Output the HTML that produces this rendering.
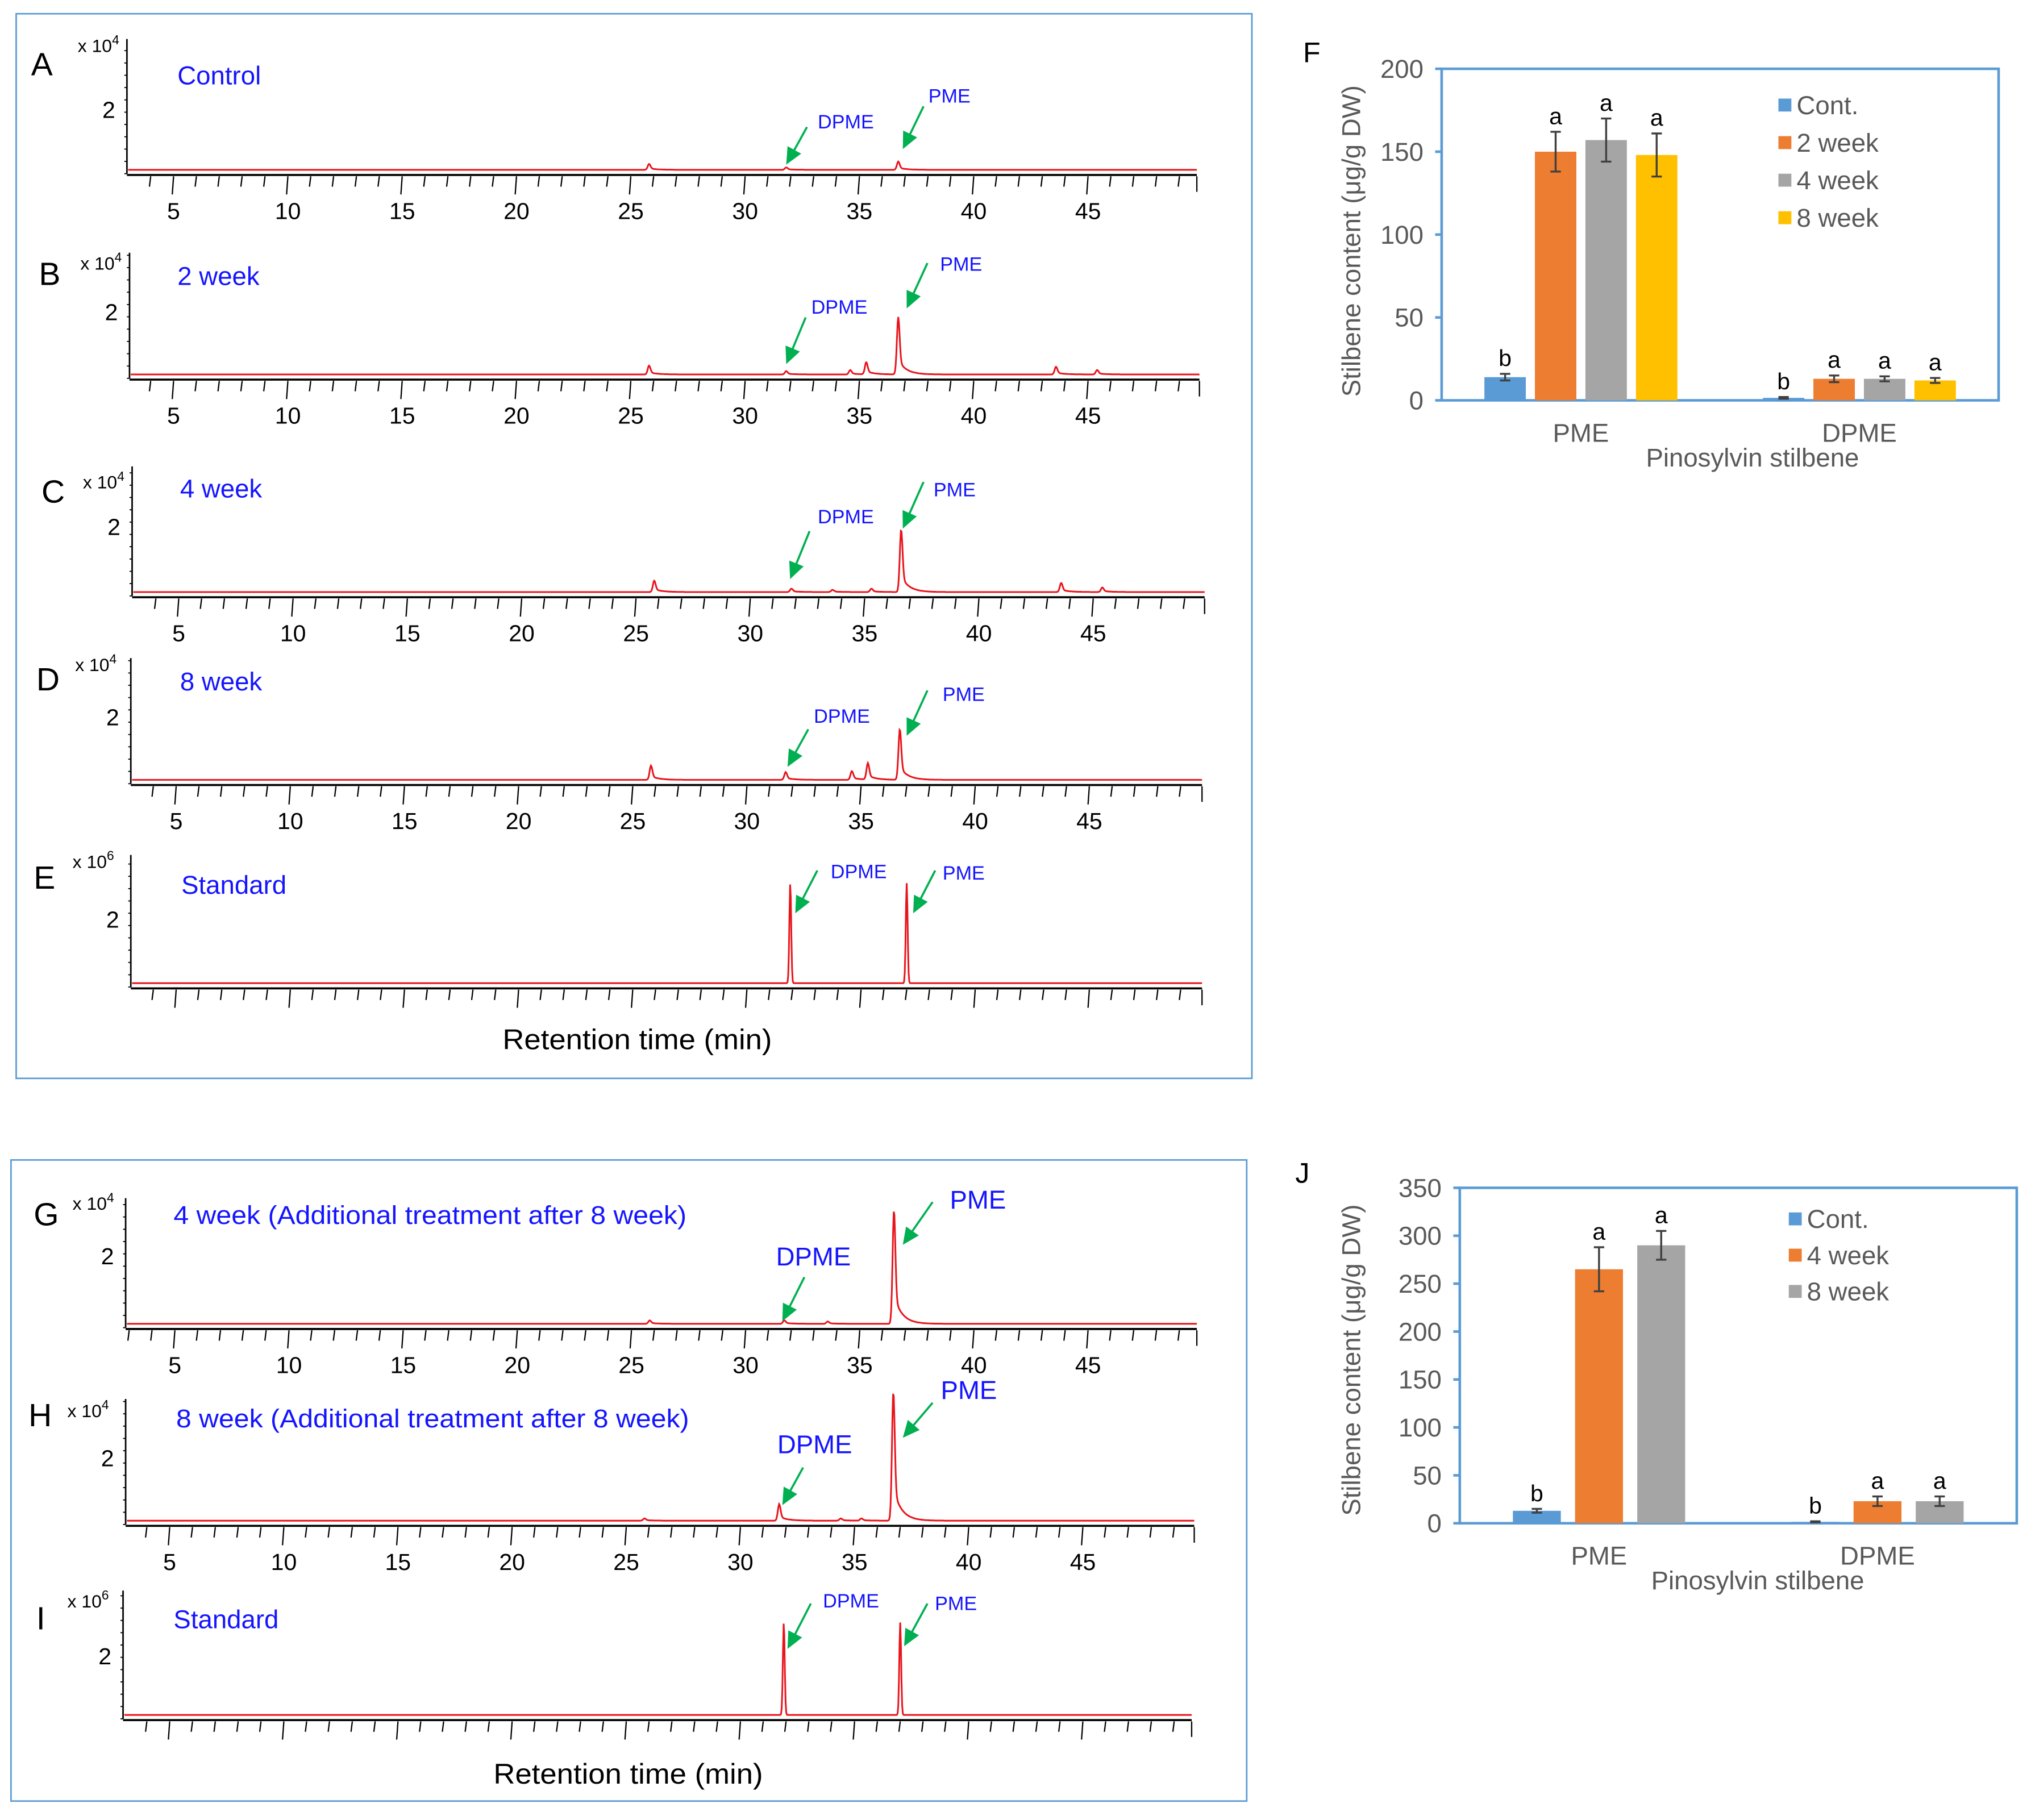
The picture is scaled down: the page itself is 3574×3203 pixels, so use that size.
<!DOCTYPE html>
<html><head><meta charset="utf-8"><style>
html,body{margin:0;padding:0;background:#fff;}
svg{display:block;}
text{font-family:"Liberation Sans Narrow","Liberation Sans",sans-serif;}
</style></head><body>
<svg id="fig" xmlns="http://www.w3.org/2000/svg" width="3574" height="3203" viewBox="0 0 1568 1405">
<rect x="0" y="0" width="1568" height="1405" fill="#fff"/>
<rect x="12.5" y="10.5" width="954" height="822" fill="none" stroke="#5b9bd5" stroke-width="1.2"/>
<rect x="8.5" y="895.5" width="954" height="495" fill="none" stroke="#5b9bd5" stroke-width="1.2"/>
</svg>
<script>
// ---------- chromatogram data: [retention time (min), relative height] ----------
const peaksA = [[25.8,0.05],[36.7,0.07],[31.8,0.02]];
const peaksB = [[25.8,0.08],[31.8,0.03],[34.6,0.04],[35.3,0.11],[36.7,0.52],[43.6,0.07],[45.4,0.04]];
const peaksC = [[25.8,0.10],[31.8,0.03],[33.6,0.02],[35.3,0.03],[36.6,0.55],[43.6,0.08],[45.4,0.04]];
const peaksD = [[25.8,0.13],[31.7,0.07],[34.6,0.08],[35.3,0.15],[36.7,0.46]];
const peaksE = [[31.9,0.86],[37.0,0.86]];
const peaksG = [[25.8,0.03],[31.7,0.03],[33.6,0.02],[36.5,1.0]];
const peaksH = [[25.8,0.02],[31.7,0.15],[34.4,0.02],[35.3,0.02],[36.7,1.17]];
const peaksI = [[31.9,0.82],[37.0,0.82]];
const tickLabels = [5,10,15,20,25,30,35,40,45];

// ---------- bar chart data ----------
const catsF = ['PME','DPME'];
const seriesF = ['Cont.','2 week','4 week','8 week'];
const valsF = [[14,1.5],[150,13],[157,13],[148,12]];
const errF = [[2,0.5],[12,2],[13,1.5],[13,1.5]];
const letF = [['b','b'],['a','a'],['a','a'],['a','a']];
const ticksF = [0,50,100,150,200];
const catsJ = ['PME','DPME'];
const seriesJ = ['Cont.','4 week','8 week'];
const valsJ = [[13,1.5],[265,23],[290,23]];
const errJ = [[2,0.5],[23,5],[15,5]];
const letJ = [['b','b'],['a','a'],['a','a']];
const ticksJ = [0,50,100,150,200,250,300,350];

const NS='http://www.w3.org/2000/svg';
const svg=document.getElementById('fig');
function mk(tag,a,parent){const e=document.createElementNS(NS,tag);for(const k in a)e.setAttribute(k,a[k]);(parent||svg).appendChild(e);return e;}
function txt(s,a,parent){const e=mk('text',a,parent);e.textContent=s;return e;}

const panels=[
 {id:'A',peaks:peaksA,x0:98,x1:924,base:134,top:30,t5:134,t45:840,two:85,title:'Control',tx:137,ty:65,lx:24,ly:50,mx:60,my:40,exp:'4',lab:true,ds:15,
  arr:[[623,98,607,127,'DPME',653,94],[713,82,697,115,'PME',733,74]]},
 {id:'B',peaks:peaksB,x0:100,x1:926,base:292,top:195,t5:134,t45:840,two:241,title:'2 week',tx:137,ty:220,lx:30,ly:212,mx:62,my:208,exp:'4',lab:true,ds:15,
  arr:[[622,245,607,281,'DPME',648,237],[716,203,700,238,'PME',742,204]]},
 {id:'C',peaks:peaksC,x0:102,x1:930,base:460,top:360,t5:138,t45:844,two:407,title:'4 week',tx:139,ty:384,lx:32,ly:380,mx:64,my:377,exp:'4',lab:true,ds:15,
  arr:[[625,410,610,447,'DPME',653,399],[713,372,697,408,'PME',737,378]]},
 {id:'D',peaks:peaksD,x0:101,x1:928,base:605,top:508,t5:136,t45:841,two:554,title:'8 week',tx:139,ty:533,lx:28,ly:525,mx:58,my:518,exp:'4',lab:true,ds:15,
  arr:[[624,563,608,592,'DPME',650,553],[716,533,700,568,'PME',744,536]]},
 {id:'E',peaks:peaksE,x0:101,x1:928,base:762,top:660,t5:136,t45:841,two:710,title:'Standard',tx:140,ty:690,lx:26,ly:678,mx:56,my:670,exp:'6',lab:false,ds:15,
  arr:[[631,672,614,705,'DPME',663,673],[722,672,705,705,'PME',744,674]]},
 {id:'G',peaks:peaksG,x0:97,x1:924,base:1025,top:925,t5:135,t45:840,two:970,title:'4 week (Additional treatment after 8 week)',tl:396,tx:134,ty:945,lx:26,ly:938,mx:56,my:934,exp:'4',lab:true,ds:20,
  arr:[[621,986,604,1020,'DPME',628,972],[720,928,697,961,'PME',755,928]]},
 {id:'H',peaks:peaksH,x0:97,x1:922,base:1177,top:1080,t5:131,t45:836,two:1126,title:'8 week (Additional treatment after 8 week)',tl:396,tx:136,ty:1102,lx:22,ly:1093,mx:52,my:1094,exp:'4',lab:true,ds:20,
  arr:[[620,1133,604,1162,'DPME',629,1117],[720,1083,697,1110,'PME',748,1075]]},
 {id:'I',peaks:peaksI,x0:95,x1:920,base:1327,top:1228,t5:131,t45:836,two:1279,title:'Standard',tx:134,ty:1257,lx:28,ly:1250,mx:52,my:1241,exp:'6',lab:false,ds:15,
  arr:[[626,1238,608,1273,'DPME',657,1236],[716,1238,698,1271,'PME',738,1238]]}
];

panels.forEach(p=>{
 const g=mk('g',{});
 
 
 const sx=t=>p.t5+(t-5)*(p.t45-p.t5)/40;
 const scale=(p.base-p.top)*0.88;
 const L=txt(p.id,{x:p.lx,y:p.ly+8,'font-size':25,fill:'#000','font-family':'Liberation Sans, sans-serif'},g);
 
 
 const M=txt('x 10',{x:p.mx,y:p.my,'font-size':14,fill:'#000'},g);
 const sup=mk('tspan',{dy:-6,'font-size':10},M); sup.textContent=p.exp;
 
 
 const ya=mk('line',{x1:p.x0,y1:p.top,x2:p.x0,y2:p.base,stroke:'#000','stroke-width':1.2},g);
 
 
 for(let y=p.base;y>p.top;y-=9.5){mk('line',{x1:p.x0-2,y1:y,x2:p.x0,y2:y,stroke:'#000','stroke-width':0.8},g);}
 const two=txt('2',{x:p.x0-9,y:p.two+6,'font-size':18,fill:'#000','text-anchor':'end'},g);
 
 
 const xa=mk('line',{x1:p.x0,y1:p.base+1,x2:p.x1,y2:p.base+1,stroke:'#000','stroke-width':1.6},g);
 
 
 for(let t=3;t<=49;t++){const x=sx(t);if(x<p.x0+2||x>p.x1+2)continue;const maj=t%5===0;
  mk('line',{x1:x,y1:p.base+2,x2:x-1,y2:p.base+(maj?16:10),stroke:'#000','stroke-width':1},g);}
 mk('line',{x1:p.x1,y1:p.base+2,x2:p.x1,y2:p.base+14,stroke:'#000','stroke-width':1},g);
 if(p.lab){tickLabels.forEach(v=>{const t=txt(String(v),{x:sx(v),y:p.base+35,'font-size':18,fill:'#000','text-anchor':'middle'},g);
  
  });}
 let d='';
 const narrow=(p.id==='E'||p.id==='I');
 for(let x=p.x0+1;x<=p.x1;x+=0.5){
  const t=5+(x-p.t5)*40/(p.t45-p.t5);
  let h=0;
  p.peaks.forEach(pk=>{const dt=t-pk[0];const w=narrow?0.04:0.06;
   if(dt<0)h+=pk[1]*Math.exp(-(dt*dt)/(2*w*w));
   else h+=pk[1]*(narrow?Math.exp(-(dt*dt)/(2*w*w)):(0.75*Math.exp(-(dt*dt)/(2*w*w))+0.25*Math.exp(-dt/0.35)));});
  const y=p.base-3-h*scale;
  d+=(d?'L':'M')+x.toFixed(1)+' '+y.toFixed(1);
 }
 const tr=mk('path',{d:d,fill:'none',stroke:'#e8141b','stroke-width':1.3},g);
 
 
 const ta={x:p.tx,y:p.ty,'font-size':20,fill:'#1414ff','font-family':'Liberation Sans, sans-serif'};
 if(p.tl){ta.textLength=p.tl;ta.lengthAdjust='spacingAndGlyphs';}
 const ti=txt(p.title,ta,g);
 
 
 p.arr.forEach(a=>{
  const [x1,y1,x2,y2,lab,lx,ly]=a;
  const ln=mk('line',{x1:x1,y1:y1,x2:x2+(x1-x2)*0.3,y2:y2+(y1-y2)*0.3,stroke:'#00b050','stroke-width':1.6},g);
  
  
  const ang=Math.atan2(y2-y1,x2-x1);const L2=13,W=6;
  const bx=x2-L2*Math.cos(ang),by=y2-L2*Math.sin(ang);
  const px=-Math.sin(ang)*W,py=Math.cos(ang)*W;
  mk('polygon',{points:`${x2},${y2} ${bx+px},${by+py} ${bx-px},${by-py}`,fill:'#00b050'},g);
  const t=txt(lab,{x:lx,y:ly+5,'font-size':p.ds,fill:'#1414ff','text-anchor':'middle','font-family':'Liberation Sans, sans-serif'},g);
  
  
 });
});
const r1=txt('Retention time (min)',{x:492,y:810,'font-size':22,fill:'#000','text-anchor':'middle','font-family':'Liberation Sans, sans-serif',textLength:208,lengthAdjust:'spacingAndGlyphs'});


const r2=txt('Retention time (min)',{x:485,y:1377,'font-size':22,fill:'#000','text-anchor':'middle','font-family':'Liberation Sans, sans-serif',textLength:208,lengthAdjust:'spacingAndGlyphs'});



const colors=['#5b9bd5','#ed7d31','#a5a5a5','#ffc000'];
function barChart(c){
 const g=mk('g',{});
 
 
 const sy=v=>c.y0-(v/c.max)*(c.y0-c.y1);
 const L=txt(c.id,{x:c.lx,y:c.ly,'font-size':22,fill:'#000','font-family':'Liberation Sans, sans-serif'},g);
 
 
 const fr=mk('rect',{x:c.x0,y:c.y1,width:c.x1-c.x0,height:c.y0-c.y1,fill:'none',stroke:'#5b9bd5','stroke-width':2},g);
 
 
 c.ticks.forEach(v=>{mk('line',{x1:c.x0-5,y1:sy(v),x2:c.x0,y2:sy(v),stroke:'#5b9bd5','stroke-width':2},g);
  const t=txt(String(v),{x:c.x0-14,y:sy(v)+7,'font-size':20,fill:'#595959','text-anchor':'end'},g);
  
  });
 const yt=txt('Stilbene content (μg/g DW)',{x:0,y:0,'font-size':20,fill:'#595959','text-anchor':'middle',transform:`translate(${c.ytx},${c.yty}) rotate(-90)`,'font-family':'Liberation Sans, sans-serif'},g);
 
 
 const ns=c.series.length;
 c.cats.forEach((cat,ci)=>{
  const gw=(c.x1-c.x0)/c.cats.length;const cx=c.x0+gw*(ci+0.5);
  const bw=c.bw,gap=c.gap;const tot=ns*bw+(ns-1)*gap;
  c.series.forEach((s,si)=>{
   const v=c.vals[si][ci],e=c.err[si][ci];
   const bx=cx-tot/2+si*(bw+gap);
   const b=mk('rect',{x:bx,y:sy(v),width:bw,height:c.y0-sy(v),fill:colors[si]},g);
   
   
   const mx=bx+bw/2;
   mk('line',{x1:mx,y1:sy(v+e),x2:mx,y2:sy(v-e),stroke:'#404040','stroke-width':1.5},g);
   mk('line',{x1:mx-4,y1:sy(v+e),x2:mx+4,y2:sy(v+e),stroke:'#404040','stroke-width':1.5},g);
   mk('line',{x1:mx-4,y1:sy(v-e),x2:mx+4,y2:sy(v-e),stroke:'#404040','stroke-width':1.5},g);
   const lt=txt(c.lets[si][ci],{x:mx,y:sy(v+e)-6,'font-size':18,fill:'#000','text-anchor':'middle'},g);
   
   
  });
  const cl=txt(cat,{x:cx,y:c.y0+32,'font-size':20,fill:'#595959','text-anchor':'middle'},g);
  
  
 });
 const xt=txt('Pinosylvin stilbene',{x:c.xtx,y:c.y0+51,'font-size':20,fill:'#595959','text-anchor':'middle'},g);
 
 
 c.series.forEach((s,si)=>{
  const y=c.ly0+si*c.lstep;
  const sw=mk('rect',{x:c.lgx,y:y-5,width:10,height:10,fill:colors[si]},g);
  
  
  const t=txt(s,{x:c.lgx+14,y:y+7,'font-size':20,fill:'#595959'},g);
  
  
 });
}
barChart({id:'F',cats:catsF,series:seriesF,vals:valsF,err:errF,lets:letF,ticks:ticksF,max:200,
 x0:1113,x1:1543,y0:309,y1:53,bw:32,gap:7,lx:1006,ly:48,ytx:1050,yty:186,xtx:1353,lgx:1373,ly0:81,lstep:29});
barChart({id:'J',cats:catsJ,series:seriesJ,vals:valsJ,err:errJ,lets:letJ,ticks:ticksJ,max:350,
 x0:1127,x1:1557,y0:1176,y1:917,bw:37,gap:11,lx:1000,ly:913,ytx:1050,yty:1050,xtx:1357,lgx:1381,ly0:941,lstep:28});
</script>
</body></html>
